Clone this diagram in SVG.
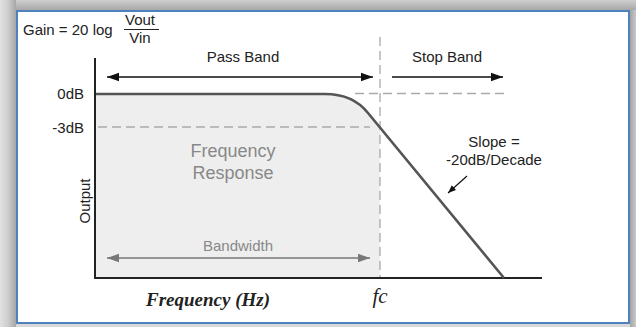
<svg xmlns="http://www.w3.org/2000/svg" width="636" height="327" viewBox="0 0 636 327">
<defs>
<linearGradient id="gl" x1="0" y1="0" x2="1" y2="0"><stop offset="0" stop-color="#e2e2e2"/><stop offset="0.5" stop-color="#cdcdcd"/><stop offset="1" stop-color="#a6a6a6"/></linearGradient>
<linearGradient id="gt" x1="0" y1="0" x2="0" y2="1"><stop offset="0" stop-color="#cfcfcf"/><stop offset="1" stop-color="#a8a8a8"/></linearGradient>
<linearGradient id="gr" x1="0" y1="0" x2="1" y2="0"><stop offset="0" stop-color="#a4a4a4"/><stop offset="1" stop-color="#c8c8c8"/></linearGradient>
<marker id="ah" viewBox="0 0 10 10" refX="10" refY="5" markerWidth="12" markerHeight="12" markerUnits="userSpaceOnUse" orient="auto-start-reverse"><path d="M0,1.5 L10,5 L0,8.5 Z" fill="#111"/></marker>
<marker id="ahs" viewBox="0 0 10 10" refX="10" refY="5" markerWidth="8" markerHeight="8" markerUnits="userSpaceOnUse" orient="auto-start-reverse"><path d="M0,1 L10,5 L0,9 Z" fill="#111"/></marker>
<marker id="ahg" viewBox="0 0 10 10" refX="10" refY="5" markerWidth="12" markerHeight="12" markerUnits="userSpaceOnUse" orient="auto-start-reverse"><path d="M0,1.5 L10,5 L0,8.5 Z" fill="#777"/></marker>
</defs>
<style>
text{font-family:"Liberation Sans",Arial,sans-serif;font-size:15px;fill:#222}
.g{fill:#888}
.dash{stroke:#aaa;stroke-width:1.3;stroke-dasharray:9 5;fill:none}
.ser{font-family:"Liberation Serif","Times New Roman",serif;font-style:italic;font-weight:bold}
</style>
<rect x="0" y="0" width="636" height="327" fill="#c6c6c6"/>
<rect x="0" y="0" width="16" height="327" fill="url(#gl)"/>
<rect x="16" y="0" width="620" height="10" fill="url(#gt)"/>
<rect x="630" y="10" width="6" height="317" fill="url(#gr)"/>
<rect x="16" y="324" width="614" height="3" fill="#d8d8d8"/>
<rect x="17" y="11" width="612" height="312" fill="#fff" stroke="#4f81bd" stroke-width="2"/>

<g id="formula">
<text x="23" y="35">Gain = 20 log</text>
<text x="140" y="25" text-anchor="middle">Vout</text>
<line x1="124" y1="29.5" x2="159" y2="29.5" stroke="#222" stroke-width="1"/>
<text x="140" y="43" text-anchor="middle">Vin</text>
</g>

<g id="response-area">
<path d="M96,94 L325,94 Q353,94 368,113 L380,128 L380,278 L96,278 Z" fill="#eeeeee"/>
<text class="g" x="233" y="157" text-anchor="middle" style="font-size:18px">Frequency</text>
<text class="g" x="233" y="179" text-anchor="middle" style="font-size:18px">Response</text>
</g>

<g id="guides">
<line class="dash" x1="380" y1="37" x2="380" y2="277"/>
<line class="dash" x1="98" y1="127" x2="370" y2="127"/>
<line class="dash" x1="355" y1="93.5" x2="506" y2="93.5"/>
</g>

<g id="axes">
<line x1="95" y1="58" x2="95" y2="279" stroke="#222" stroke-width="2"/>
<line x1="94" y1="278" x2="542" y2="278" stroke="#222" stroke-width="2"/>
<text x="84" y="99" text-anchor="end">0dB</text>
<text x="84" y="133" text-anchor="end">-3dB</text>
<text x="90" y="201" text-anchor="middle" transform="rotate(-90 90 201)">Output</text>
<text class="ser" x="208" y="306" text-anchor="middle" style="font-size:19px">Frequency (Hz)</text>
<text x="380" y="303" text-anchor="middle" style="font-family:'Liberation Serif','Times New Roman',serif;font-style:italic;font-size:21px">fc</text>
</g>

<g id="curve">
<path d="M96,94 L325,94 Q353,94 368,113 L504,278" fill="none" stroke="#555" stroke-width="2.6"/>
</g>

<g id="connectors">
<line x1="107" y1="77" x2="373" y2="77" stroke="#111" stroke-width="1.3" marker-start="url(#ah)" marker-end="url(#ah)"/>
<line x1="392" y1="77" x2="503" y2="77" stroke="#111" stroke-width="1.3" marker-end="url(#ah)"/>
<line x1="107" y1="258" x2="370" y2="258" stroke="#777" stroke-width="1.3" marker-start="url(#ahg)" marker-end="url(#ahg)"/>
<line x1="467" y1="176" x2="448" y2="193" stroke="#111" stroke-width="1.2" marker-end="url(#ahs)"/>
</g>

<g id="labels">
<text x="243" y="62" text-anchor="middle">Pass Band</text>
<text x="447" y="62" text-anchor="middle">Stop Band</text>
<text class="g" x="238" y="251" text-anchor="middle">Bandwidth</text>
<text x="494" y="147" text-anchor="middle">Slope =</text>
<text x="494" y="165" text-anchor="middle">-20dB/Decade</text>
</g>
</svg>
